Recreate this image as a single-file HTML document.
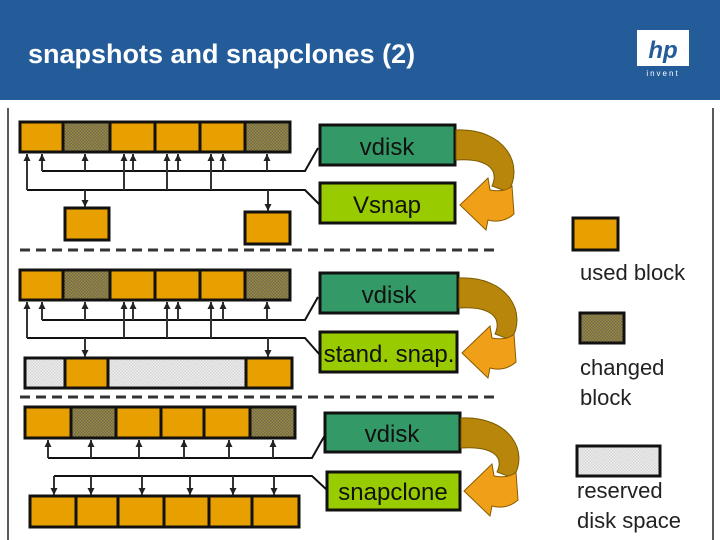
<!DOCTYPE html>
<html><head><style>
html,body{margin:0;padding:0;width:720px;height:540px;overflow:hidden;background:#fff}
svg{display:block}
text{font-family:"Liberation Sans",sans-serif}
</style></head><body>
<svg width="720" height="540" viewBox="0 0 720 540" xmlns="http://www.w3.org/2000/svg">
<defs>
<pattern id="chg" width="3" height="3" patternUnits="userSpaceOnUse">
<rect width="3" height="3" fill="#a08a3a"/><rect width="1.5" height="1.5" fill="#6b6a55"/><rect x="1.5" y="1.5" width="1.5" height="1.5" fill="#6b6a55"/>
</pattern>
<pattern id="res" width="3" height="3" patternUnits="userSpaceOnUse">
<rect width="3" height="3" fill="#eeeeee"/><rect width="1.5" height="1.5" fill="#d6d6d6"/><rect x="1.5" y="1.5" width="1.5" height="1.5" fill="#d6d6d6"/>
</pattern>
<marker id="au" viewBox="0 0 8 8" refX="8" refY="4" markerWidth="7" markerHeight="7" markerUnits="userSpaceOnUse" orient="auto">
<path d="M0,0 L8,4 L0,8 Z" fill="#222"/></marker>
</defs>
<rect x="0" y="0" width="720" height="100" fill="#245c9a"/>
<text x="28" y="63" font-size="27" font-weight="bold" fill="#fff">snapshots and snapclones (2)</text>
<rect x="637" y="30" width="52" height="36" fill="#fff"/>
<text x="663" y="58" font-size="24" font-weight="bold" font-style="italic" fill="#245c9a" text-anchor="middle">hp</text>
<text x="663" y="76" font-size="8" fill="#fff" text-anchor="middle" letter-spacing="2">invent</text>
<line x1="8" y1="108" x2="8" y2="540" stroke="#222" stroke-width="1.5"/>
<line x1="713" y1="108" x2="713" y2="540" stroke="#222" stroke-width="1.5"/>

<g stroke="#111" stroke-width="3">
<rect x="20" y="122" width="43" height="30" fill="#e8a000"/>
<rect x="63" y="122" width="47" height="30" fill="url(#chg)"/>
<rect x="110" y="122" width="45" height="30" fill="#e8a000"/>
<rect x="155" y="122" width="45" height="30" fill="#e8a000"/>
<rect x="200" y="122" width="45" height="30" fill="#e8a000"/>
<rect x="245" y="122" width="45" height="30" fill="url(#chg)"/>
<rect x="65" y="208" width="44" height="32" fill="#e8a000"/>
<rect x="245" y="212" width="45" height="32" fill="#e8a000"/>
<rect x="20" y="270" width="43" height="30" fill="#e8a000"/>
<rect x="63" y="270" width="47" height="30" fill="url(#chg)"/>
<rect x="110" y="270" width="45" height="30" fill="#e8a000"/>
<rect x="155" y="270" width="45" height="30" fill="#e8a000"/>
<rect x="200" y="270" width="45" height="30" fill="#e8a000"/>
<rect x="245" y="270" width="45" height="30" fill="url(#chg)"/>
<rect x="25" y="358" width="40" height="30" fill="url(#res)"/>
<rect x="65" y="358" width="43" height="30" fill="#e8a000"/>
<rect x="108" y="358" width="138" height="30" fill="url(#res)"/>
<rect x="246" y="358" width="46" height="30" fill="#e8a000"/>
<rect x="25" y="407" width="46" height="31" fill="#e8a000"/>
<rect x="71" y="407" width="45" height="31" fill="url(#chg)"/>
<rect x="116" y="407" width="45" height="31" fill="#e8a000"/>
<rect x="161" y="407" width="43" height="31" fill="#e8a000"/>
<rect x="204" y="407" width="46" height="31" fill="#e8a000"/>
<rect x="250" y="407" width="45" height="31" fill="url(#chg)"/>
<rect x="30" y="496" width="46" height="31" fill="#e8a000"/>
<rect x="76" y="496" width="42" height="31" fill="#e8a000"/>
<rect x="118" y="496" width="46" height="31" fill="#e8a000"/>
<rect x="164" y="496" width="45" height="31" fill="#e8a000"/>
<rect x="209" y="496" width="43" height="31" fill="#e8a000"/>
<rect x="252" y="496" width="47" height="31" fill="#e8a000"/>
</g>

<g stroke="#111" stroke-width="2" fill="none">
<path d="M42,171 H305 L318,148"/>
<path d="M27,190 H305 L320,205"/>
<path d="M42,320 H305 L318,297"/>
<path d="M27,338 H305 L320,355"/>
<path d="M48,458 H312 L325,435"/>
<path d="M54,476 H312 L327,490"/>
</g>
<g stroke="#333" stroke-width="2" marker-end="url(#au)">
<line x1="42" y1="171" x2="42" y2="154"/><line x1="85" y1="171" x2="85" y2="154"/><line x1="133" y1="171" x2="133" y2="154"/><line x1="178" y1="171" x2="178" y2="154"/><line x1="223" y1="171" x2="223" y2="154"/><line x1="267" y1="171" x2="267" y2="154"/>
<line x1="27" y1="190" x2="27" y2="154"/><line x1="124" y1="190" x2="124" y2="154"/><line x1="167" y1="190" x2="167" y2="154"/><line x1="211" y1="190" x2="211" y2="154"/>
<line x1="85" y1="190" x2="85" y2="207"/><line x1="268" y1="190" x2="268" y2="211"/>

<line x1="42" y1="320" x2="42" y2="302"/><line x1="85" y1="320" x2="85" y2="302"/><line x1="133" y1="320" x2="133" y2="302"/><line x1="178" y1="320" x2="178" y2="302"/><line x1="223" y1="320" x2="223" y2="302"/><line x1="267" y1="320" x2="267" y2="302"/>
<line x1="27" y1="338" x2="27" y2="302"/><line x1="124" y1="338" x2="124" y2="302"/><line x1="167" y1="338" x2="167" y2="302"/><line x1="211" y1="338" x2="211" y2="302"/>
<line x1="85" y1="338" x2="85" y2="357"/><line x1="268" y1="338" x2="268" y2="357"/>

<line x1="48" y1="458" x2="48" y2="440"/><line x1="91" y1="458" x2="91" y2="440"/><line x1="139" y1="458" x2="139" y2="440"/><line x1="184" y1="458" x2="184" y2="440"/><line x1="229" y1="458" x2="229" y2="440"/><line x1="273" y1="458" x2="273" y2="440"/>
<line x1="54" y1="476" x2="54" y2="495"/><line x1="91" y1="476" x2="91" y2="495"/><line x1="142" y1="476" x2="142" y2="495"/><line x1="190" y1="476" x2="190" y2="495"/><line x1="233" y1="476" x2="233" y2="495"/><line x1="274" y1="476" x2="274" y2="495"/>
</g>

<g stroke="#333" stroke-width="3" stroke-dasharray="10,6">
<line x1="20" y1="250" x2="500" y2="250"/>
<line x1="20" y1="397" x2="500" y2="397"/>
</g>

<g stroke="#111" stroke-width="3">
<rect x="320" y="125" width="135" height="40" fill="#339966"/>
<rect x="320" y="183" width="135" height="40" fill="#99cc00"/>
<rect x="320" y="273" width="138" height="40" fill="#339966"/>
<rect x="320" y="332" width="137" height="40" fill="#99cc00"/>
<rect x="325" y="413" width="135" height="39" fill="#339966"/>
<rect x="327" y="472" width="133" height="38" fill="#99cc00"/>
</g>
<g font-size="24" fill="#111" text-anchor="middle">
<text x="387" y="155">vdisk</text>
<text x="387" y="213">Vsnap</text>
<text x="389" y="303">vdisk</text>
<text x="389" y="362">stand. snap.</text>
<text x="392" y="442">vdisk</text>
<text x="393" y="500">snapclone</text>
</g>

<g>
<path d="M456,130 C505,128 525,165 508,192 L492,186 C500,168 485,158 456,160 Z" fill="#b8860b" stroke="#7a5a00" stroke-width="1"/>
<path d="M460,205 L488,178 L490,190 C500,192 508,190 512,186 L514,214 C505,222 495,222 488,220 L486,230 Z" fill="#f0a018" stroke="#8a5a00" stroke-width="1"/>
</g>
<g>
<path d="M459,278 C508,276 528,313 511,340 L495,334 C503,316 488,306 459,308 Z" fill="#b8860b" stroke="#7a5a00" stroke-width="1"/>
<path d="M462,353 L490,326 L492,338 C502,340 510,338 514,334 L516,362 C507,370 497,370 490,368 L488,378 Z" fill="#f0a018" stroke="#8a5a00" stroke-width="1"/>
</g>
<g>
<path d="M461,418 C510,416 530,452 513,478 L497,472 C505,455 490,446 461,448 Z" fill="#b8860b" stroke="#7a5a00" stroke-width="1"/>
<path d="M464,491 L492,464 L494,476 C504,478 512,476 516,472 L518,500 C509,508 499,508 492,506 L490,516 Z" fill="#f0a018" stroke="#8a5a00" stroke-width="1"/>
</g>

<g stroke="#111" stroke-width="3">
<rect x="573" y="218" width="45" height="32" fill="#e8a000"/>
<rect x="580" y="313" width="44" height="30" fill="url(#chg)"/>
<rect x="577" y="446" width="83" height="30" fill="url(#res)"/>
</g>
<g font-size="22" fill="#222">
<text x="580" y="280">used block</text>
<text x="580" y="375">changed</text>
<text x="580" y="405">block</text>
<text x="577" y="498">reserved</text>
<text x="577" y="528">disk space</text>
</g>
</svg>
</body></html>
